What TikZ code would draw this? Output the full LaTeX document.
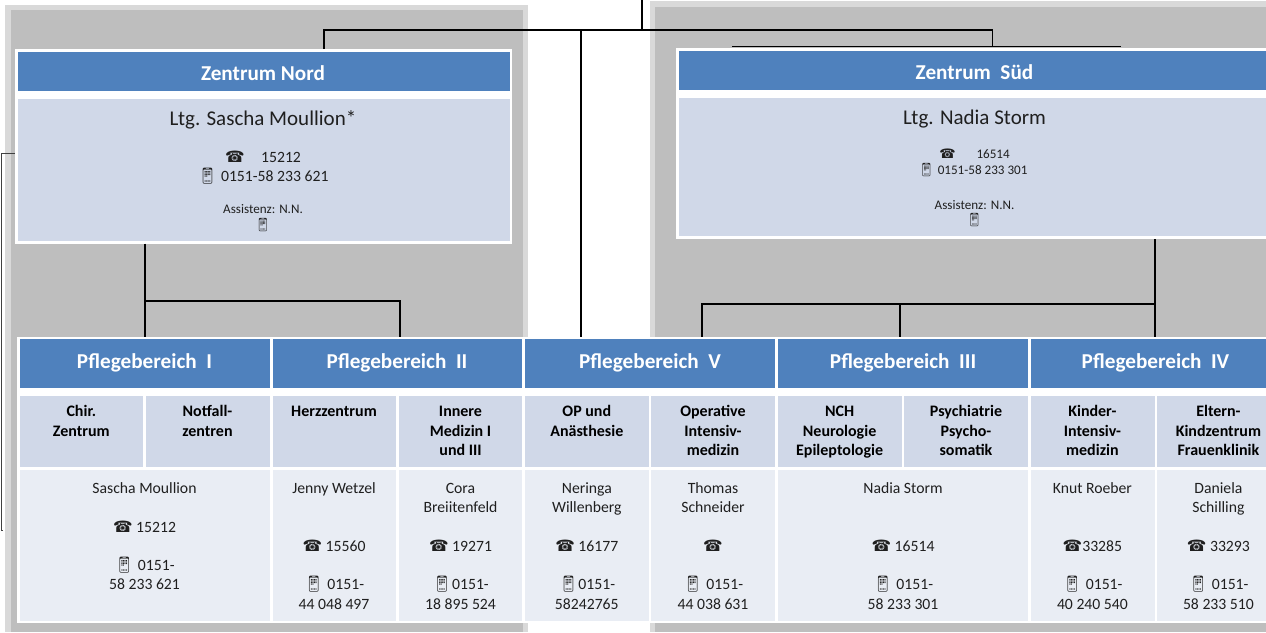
\documentclass[tikz,border=0pt]{standalone}
\usepackage{fontspec}
\setmainfont{Carlito}
\newfontfamily\dejafont{DejaVu Sans}
\newfontfamily\emofont{Noto Emoji}
\newcommand{\ph}{{\dejafont\char"260E}}
\newcommand{\mob}{{\emofont\char"1F4F1}}
\definecolor{hdrblue}{HTML}{4F81BD}
\definecolor{palea}{HTML}{D0D8E8}
\definecolor{paleb}{HTML}{E9EDF4}
\definecolor{panelgray}{HTML}{BEBEBE}
\definecolor{panelrim}{HTML}{D9D9D9}
\newcount\tcnt
\newcommand{\fs}[1]{\fontsize{#1}{#1}\selectfont}
\tikzset{
  cellbox/.style={inner sep=0pt,outer sep=0pt,draw=none},
  txt/.style={inner sep=0pt,outer sep=0pt,anchor=base,text=black!88},
  hdr/.style={txt,text=white,font=\fs{21.2}\bfseries},
  subh/.style={txt,text=black,font=\fs{16}\bfseries},
  det/.style={txt,font=\fs{15.7}},
  big/.style={txt,font=\fs{21}},
  small/.style={txt,font=\fs{13.1}},
  conn/.style={line width=1.7pt,black},
}
\newcommand{\cell}[6]{%
  \node[cellbox,fill=#6,minimum width={(#4-#2)*1pt},minimum height={(#5-#3)*1pt}] (#1) at ({(#2+#4)/2},{(#3+#5)/2}) {};}
\newcommand{\tx}[4]{%
  \global\advance\tcnt by 1
  \node[#1] (t\the\tcnt) at (#2,#3) {#4};}
\begin{document}
\begin{tikzpicture}[x=1pt,y=-1pt]
\useasboundingbox (0,0) rectangle (1266,632);
\fill[white] (0,0) rectangle (1266,632);
% panels
\cell{leftrim}{5.4}{5}{527.7}{632}{panelrim}
\cell{leftpanel}{11}{10}{522.6}{632}{panelgray}
\cell{rightrim}{649.6}{1}{1266}{632}{panelrim}
\cell{rightpanel}{654.8}{6.7}{1266}{632}{panelgray}
% connector way points
\coordinate (top) at (642,0);
\coordinate (topj) at (642,30);
\coordinate (nordj) at (324,30);
\coordinate (suedj) at (992.5,30);
\coordinate (midj) at (581,30);
\coordinate (suedbarl) at (732,46.5);
\coordinate (suedbarr) at (1121,46.5);
\coordinate (nordd) at (144.9,301);
\coordinate (norde) at (400,301);
\coordinate (suedd) at (1155,304);
\coordinate (suede) at (899.9,304);
\coordinate (suedf) at (702,304);
\coordinate (leftt) at (1,153);
\coordinate (leftb) at (1,530);
\coordinate (leftc) at (2.5,530);
% boxes
\cell{nordbox}{15}{49}{512}{243.7}{white}
\cell{nordhead}{17.6}{51.7}{509.5}{91.3}{hdrblue}
\cell{nordinfo}{17.6}{99.3}{509.5}{241}{palea}
\cell{suedbox}{676}{48}{1266}{239}{white}
\cell{suedhead}{678.7}{50.7}{1266}{89.7}{hdrblue}
\cell{suedinfo}{678.7}{97.7}{1266}{236.3}{palea}
\cell{table}{17}{336.7}{1266}{623}{white}
% connectors
\draw[conn] (top) -- (topj);
\draw[conn] (nordj |- nordbox.north) -- (nordj) -- (suedj) -- (suedj |- suedbarl);
\draw[conn] (suedbarl) -- (suedbarr);
\draw[conn] (midj) -- (midj |- table.north);
\draw[conn] (nordd |- nordbox.south) -- (nordd |- table.north);
\draw[conn] (nordd) -- (norde) -- (norde |- table.north);
\draw[conn] (suedd |- suedbox.south) -- (suedd |- table.north);
\draw[conn] (suedd) -- (suedf) -- (suedf |- table.north);
\draw[conn] (suede) -- (suede |- table.north);
\draw[line width=1pt,black!75] (nordbox.west |- leftt) -- (leftt) -- (leftb) -- (leftc);
% table cells
\cell{h1}{19.6}{339.3}{269.8}{387.7}{hdrblue}
\cell{h2}{272.5}{339.3}{522.3}{387.7}{hdrblue}
\cell{h5}{524.8}{339.3}{775}{387.7}{hdrblue}
\cell{h3}{777.9}{339.3}{1028}{387.7}{hdrblue}
\cell{h4}{1031}{339.3}{1266}{387.7}{hdrblue}
\cell{s1}{19.6}{396}{143}{467}{palea}
\cell{s2}{146}{396}{269.8}{467}{palea}
\cell{s3}{272.5}{396}{396}{467}{palea}
\cell{s4}{399}{396}{522.3}{467}{palea}
\cell{s5}{524.8}{396}{649}{467}{palea}
\cell{s6}{651.3}{396}{775}{467}{palea}
\cell{s7}{777.9}{396}{902}{467}{palea}
\cell{s8}{904.4}{396}{1028}{467}{palea}
\cell{s9}{1031}{396}{1154.6}{467}{palea}
\cell{s10}{1157}{396}{1266}{467}{palea}
\cell{d1}{19.6}{470}{269.8}{621}{paleb}
\cell{d3}{272.5}{470}{396}{621}{paleb}
\cell{d4}{399}{470}{522.3}{621}{paleb}
\cell{d5}{524.8}{470}{649}{621}{paleb}
\cell{d6}{651.3}{470}{775}{621}{paleb}
\cell{d7}{777.9}{470}{1028}{621}{paleb}
\cell{d9}{1031}{470}{1154.6}{621}{paleb}
\cell{d10}{1157}{470}{1266}{621}{paleb}
% Nord text
\tx{hdr}{263}{80}{Zentrum Nord}
\tx{big}{263}{125.5}{Ltg. Sascha Moullion*}
\tx{det}{263}{162}{\ph\hspace{1.05em}15212}
\tx{det}{263}{181}{\mob\ 0151-58 233 621}
\tx{small}{263}{213.3}{Assistenz: N.N.}
\tx{small}{263}{229}{\mob}
% Sued text
\tx{hdr}{974.5}{79}{Zentrum\ \ Süd}
\tx{big}{974.5}{124}{Ltg. Nadia Storm}
\tx{small}{974.5}{158}{\ph\hspace{1.6em}16514}
\tx{small}{972.8}{174.3}{\mob\ 0151-58 233 301}
\tx{small}{974.5}{209.3}{Assistenz: N.N.}
\tx{small}{974.5}{224}{\mob}
% headers
\tx{hdr}{144.5}{368.3}{Pflegebereich\ \ I}
\tx{hdr}{397}{368.3}{Pflegebereich\ \ II}
\tx{hdr}{650}{368.3}{Pflegebereich\ \ V}
\tx{hdr}{903}{368.3}{Pflegebereich\ \ III}
\tx{hdr}{1155.5}{368.3}{Pflegebereich\ \ IV}
% sub headers
\tx{subh}{81.3}{416.3}{Chir.}
\tx{subh}{81.3}{436.3}{Zentrum}
\tx{subh}{207.5}{416.3}{Notfall-}
\tx{subh}{207.5}{436.3}{zentren}
\tx{subh}{334}{416.3}{Herzzentrum}
\tx{subh}{460.5}{416.3}{Innere}
\tx{subh}{460.5}{436.3}{Medizin I}
\tx{subh}{460.5}{455.3}{und III}
\tx{subh}{586.8}{416.3}{OP und}
\tx{subh}{586.8}{436.3}{Anästhesie}
\tx{subh}{713}{416.3}{Operative}
\tx{subh}{713}{436.3}{Intensiv-}
\tx{subh}{713}{455.3}{medizin}
\tx{subh}{839.6}{416.3}{NCH}
\tx{subh}{839.6}{436.3}{Neurologie}
\tx{subh}{839.6}{455.3}{Epileptologie}
\tx{subh}{966}{416.3}{Psychiatrie}
\tx{subh}{966}{436.3}{Psycho-}
\tx{subh}{966}{455.3}{somatik}
\tx{subh}{1092.4}{416.3}{Kinder-}
\tx{subh}{1092.4}{436.3}{Intensiv-}
\tx{subh}{1092.4}{455.3}{medizin}
\tx{subh}{1218.4}{416.3}{Eltern-}
\tx{subh}{1218.4}{436.3}{Kindzentrum}
\tx{subh}{1218.4}{455.3}{Frauenklinik}
% details
\tx{det}{144.5}{493.3}{Sascha Moullion}
\tx{det}{144.5}{532.3}{\ph\ 15212}
\tx{det}{144.5}{570.3}{\mob\ 0151-}
\tx{det}{144.5}{589.3}{58 233 621}
\tx{det}{334}{493.3}{Jenny Wetzel}
\tx{det}{334}{551.3}{\ph\ 15560}
\tx{det}{334}{589.3}{\mob\ 0151-}
\tx{det}{334}{609.3}{44 048 497}
\tx{det}{460.5}{493.3}{Cora}
\tx{det}{460.5}{512.3}{Breiitenfeld}
\tx{det}{460.5}{551.3}{\ph\ 19271}
\tx{det}{460.5}{589.3}{\mob 0151-}
\tx{det}{460.5}{609.3}{18 895 524}
\tx{det}{586.8}{493.3}{Neringa}
\tx{det}{586.8}{512.3}{Willenberg}
\tx{det}{586.8}{551.3}{\ph\ 16177}
\tx{det}{586.8}{589.3}{\mob 0151-}
\tx{det}{586.8}{609.3}{58242765}
\tx{det}{713}{493.3}{Thomas}
\tx{det}{713}{512.3}{Schneider}
\tx{det}{713}{551.3}{\ph}
\tx{det}{713}{589.3}{\mob\ 0151-}
\tx{det}{713}{609.3}{44 038 631}
\tx{det}{903}{493.3}{Nadia Storm}
\tx{det}{903}{551.3}{\ph\ 16514}
\tx{det}{903}{589.3}{\mob\ 0151-}
\tx{det}{903}{609.3}{58 233 301}
\tx{det}{1092.4}{493.3}{Knut Roeber}
\tx{det}{1092.4}{551.3}{\ph33285}
\tx{det}{1092.4}{589.3}{\mob\ 0151-}
\tx{det}{1092.4}{609.3}{40 240 540}
\tx{det}{1218.4}{493.3}{Daniela}
\tx{det}{1218.4}{512.3}{Schilling}
\tx{det}{1218.4}{551.3}{\ph\ 33293}
\tx{det}{1218.4}{589.3}{\mob\ 0151-}
\tx{det}{1218.4}{609.3}{58 233 510}
\end{tikzpicture}
\end{document}
